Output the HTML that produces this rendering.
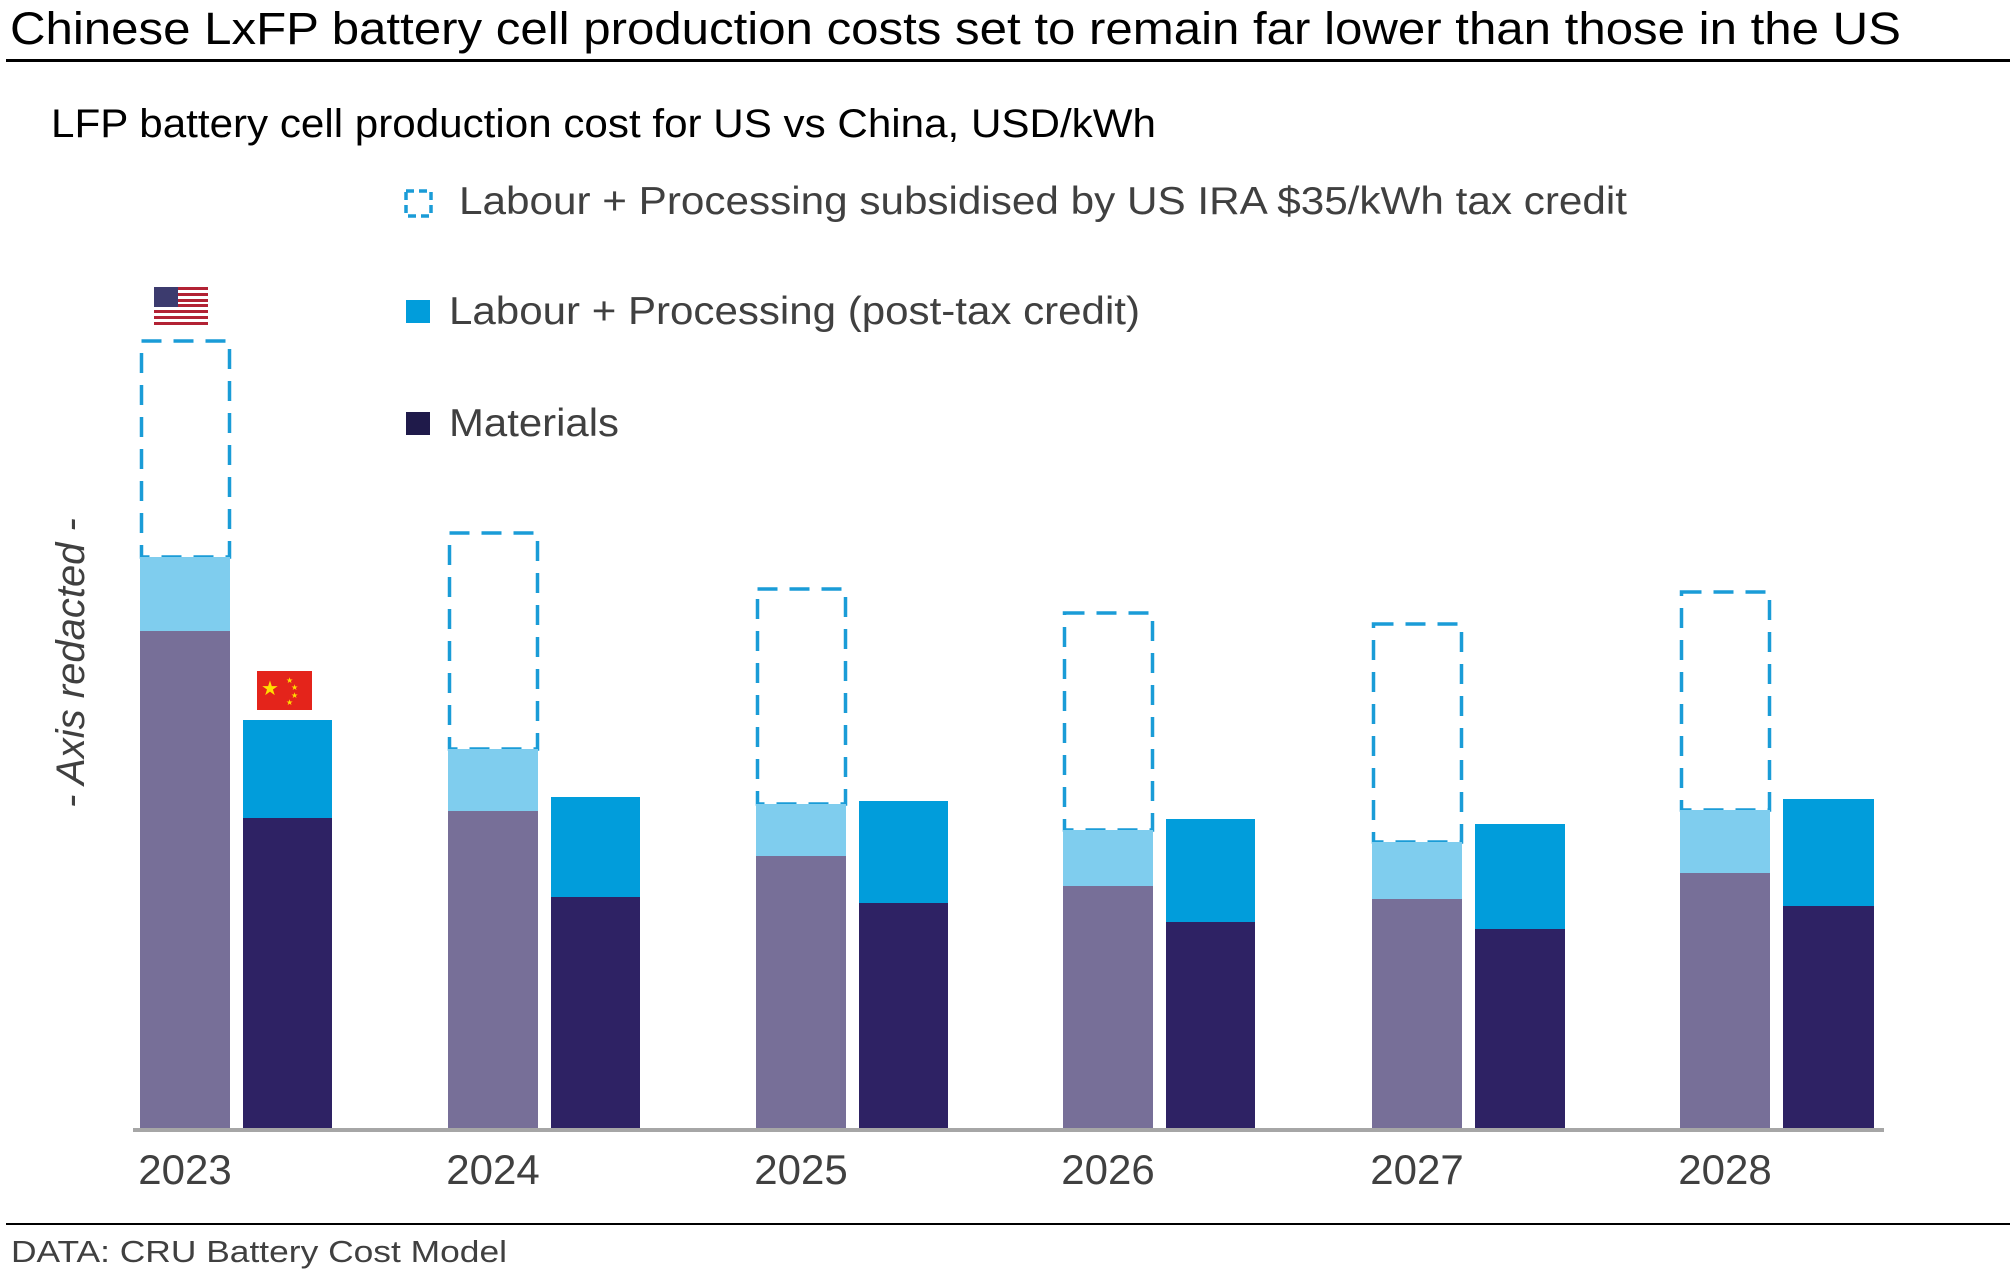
<!DOCTYPE html>
<html><head><meta charset="utf-8"><style>
html,body{margin:0;padding:0;background:#fff;}
svg{display:block;font-family:"Liberation Sans",Arial,sans-serif;}
</style></head><body>
<svg width="2010" height="1274" viewBox="0 0 2010 1274" xmlns="http://www.w3.org/2000/svg">
<rect width="2010" height="1274" fill="#fff"/>
<text x="10" y="44" font-size="45" fill="#000" textLength="1891" lengthAdjust="spacingAndGlyphs">Chinese LxFP battery cell production costs set to remain far lower than those in the US</text>
<rect x="6" y="59" width="2004" height="3" fill="#000"/>
<text x="51" y="137" font-size="40" fill="#000" textLength="1105" lengthAdjust="spacingAndGlyphs">LFP battery cell production cost for US vs China, USD/kWh</text>

<rect x="406" y="191" width="25" height="25" fill="none" stroke="#1a9cd7" stroke-width="3.5" stroke-dasharray="8 5"/>
<text x="459" y="214" font-size="39" fill="#404040" textLength="1168" lengthAdjust="spacingAndGlyphs">Labour + Processing subsidised by US IRA $35/kWh tax credit</text>
<rect x="406" y="300" width="24" height="23" fill="#019ddb"/>
<text x="449" y="324" font-size="39" fill="#404040" textLength="691" lengthAdjust="spacingAndGlyphs">Labour + Processing (post-tax credit)</text>
<rect x="406" y="412" width="24" height="23" fill="#1f1a4a"/>
<text x="449" y="436" font-size="39" fill="#404040" textLength="170" lengthAdjust="spacingAndGlyphs">Materials</text>

<text transform="translate(84,663) rotate(-90)" text-anchor="middle" font-size="40" font-style="italic" fill="#404040">- Axis redacted -</text>

<g transform="translate(154,287)">
<rect width="54" height="38" fill="#fff"/>
<g fill="#b22234">
<rect y="0" width="54" height="3"/><rect y="6" width="54" height="3"/><rect y="12" width="54" height="3"/><rect y="17" width="54" height="3"/><rect y="23" width="54" height="3"/><rect y="29" width="54" height="3"/><rect y="35" width="54" height="3"/>
</g>
<rect width="24" height="20" fill="#3c3b6e"/>
</g>
<g transform="translate(257,671)">
<rect width="55" height="39" fill="#e4241b"/>
<text x="4" y="24" font-size="20" fill="#ffde00">★</text>
<text x="29" y="12" font-size="8" fill="#ffde00">★</text>
<text x="34" y="19" font-size="8" fill="#ffde00">★</text>
<text x="34" y="27" font-size="8" fill="#ffde00">★</text>
<text x="29" y="34" font-size="8" fill="#ffde00">★</text>
</g>

<g stroke="#1a9cd7" stroke-width="3.5" fill="none" stroke-dasharray="20 12">
<rect x="141.5" y="341" width="88" height="216"/>
<rect x="449.5" y="533" width="88" height="216"/>
<rect x="757.5" y="589" width="88" height="215"/>
<rect x="1064.5" y="613" width="88" height="217"/>
<rect x="1373.5" y="624" width="88" height="218"/>
<rect x="1681.5" y="592" width="88" height="218"/>
</g>

<g>
<rect x="140" y="557" width="90" height="74" fill="#7fcdee"/><rect x="140" y="631" width="90" height="497" fill="#776f98"/>
<rect x="448" y="749" width="90" height="62" fill="#7fcdee"/><rect x="448" y="811" width="90" height="317" fill="#776f98"/>
<rect x="756" y="804" width="90" height="52" fill="#7fcdee"/><rect x="756" y="856" width="90" height="272" fill="#776f98"/>
<rect x="1063" y="830" width="90" height="56" fill="#7fcdee"/><rect x="1063" y="886" width="90" height="242" fill="#776f98"/>
<rect x="1372" y="842" width="90" height="57" fill="#7fcdee"/><rect x="1372" y="899" width="90" height="229" fill="#776f98"/>
<rect x="1680" y="810" width="90" height="63" fill="#7fcdee"/><rect x="1680" y="873" width="90" height="255" fill="#776f98"/>
</g>
<g>
<rect x="243" y="720" width="89" height="98" fill="#019ddb"/><rect x="243" y="818" width="89" height="310" fill="#2e2264"/>
<rect x="551" y="797" width="89" height="100" fill="#019ddb"/><rect x="551" y="897" width="89" height="231" fill="#2e2264"/>
<rect x="859" y="801" width="89" height="102" fill="#019ddb"/><rect x="859" y="903" width="89" height="225" fill="#2e2264"/>
<rect x="1166" y="819" width="89" height="103" fill="#019ddb"/><rect x="1166" y="922" width="89" height="206" fill="#2e2264"/>
<rect x="1475" y="824" width="90" height="105" fill="#019ddb"/><rect x="1475" y="929" width="90" height="199" fill="#2e2264"/>
<rect x="1783" y="799" width="91" height="107" fill="#019ddb"/><rect x="1783" y="906" width="91" height="222" fill="#2e2264"/>
</g>

<rect x="133" y="1128" width="1751" height="4" fill="#a6a6a6"/>
<g font-size="42" fill="#404040" text-anchor="middle">
<text x="185" y="1184">2023</text>
<text x="493" y="1184">2024</text>
<text x="801" y="1184">2025</text>
<text x="1108" y="1184">2026</text>
<text x="1417" y="1184">2027</text>
<text x="1725" y="1184">2028</text>
</g>

<rect x="6" y="1223" width="2004" height="2" fill="#000"/>
<text x="11" y="1262" font-size="31" fill="#404040" textLength="496" lengthAdjust="spacingAndGlyphs">DATA: CRU Battery Cost Model</text>
</svg>
</body></html>
